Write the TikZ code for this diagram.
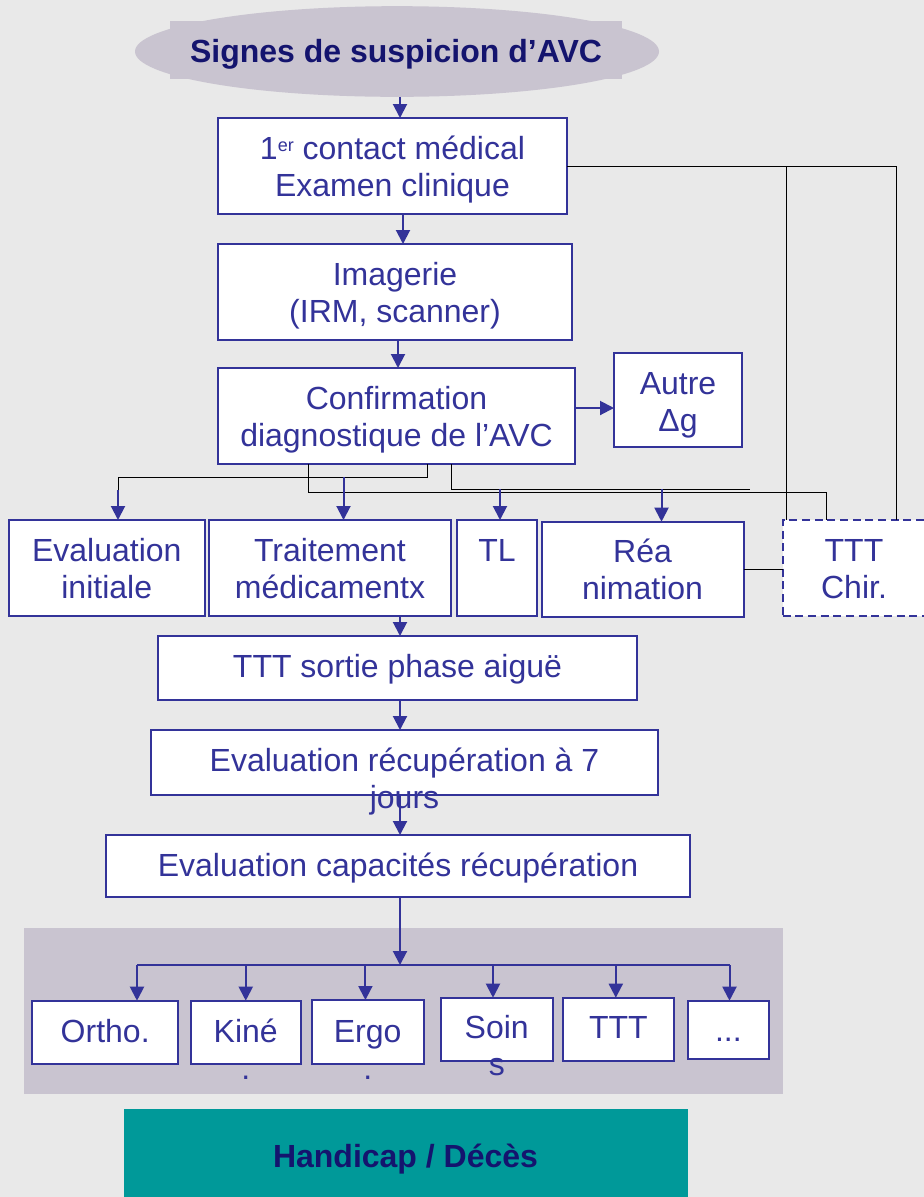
\documentclass[tikz,border=0pt]{standalone}
\usepackage{fontspec}
\setmainfont{Liberation Sans}
\usetikzlibrary{shapes.geometric,fit,arrows.meta}
\definecolor{pagebg}{RGB}{233,233,233}
\definecolor{ink}{RGB}{51,51,153}
\definecolor{navy}{RGB}{20,20,110}
\definecolor{mauve}{RGB}{201,196,208}
\definecolor{tealfill}{RGB}{0,153,153}
\newcommand{\ordsup}[1]{\raisebox{6pt}{\fontsize{13.5}{14}\selectfont #1}}
\begin{document}
\begin{tikzpicture}[x=0.75pt,y=-0.75pt,
  box/.style={draw=ink, line width=1.5pt, fill=white, inner sep=0pt, outer sep=0pt},
  dbox/.style={box, dash pattern=on 6pt off 3.5pt},
  plate/.style={fill=mauve, inner sep=0pt, outer sep=0pt},
  txt/.style={text=ink, font=\fontsize{24}{27.75}\selectfont, align=center, inner sep=0pt, anchor=base},
  head/.style={text=navy, font=\bfseries\fontsize{24}{27.75}\selectfont, inner sep=0pt, anchor=base},
  wire/.style={draw=black, line width=0.6pt},
  link/.style={draw=ink, line width=1.5pt},
  arr/.style={link, -{Triangle[length=10.5pt,width=10.5pt]}}]

% page
\fill[pagebg] (0,0) rectangle (924,1197);
\useasboundingbox (0,0) rectangle (924,1197);

% column and row helpers for the connectors
\coordinate (col) at (400,0);
\coordinate (colB) at (403,0);
\coordinate (colC) at (398,0);
\coordinate (v1) at (786,0);
\coordinate (v2) at (896,0);
\coordinate (r408) at (0,408);

% backgrounds
\node[plate, fit={(170,21) (622,79)}] (sigbox) {};
\node[plate, ellipse, minimum width=393pt, minimum height=68pt] (sig) at (397,51.5) {};
\node[head] (sig-t) at (396,62) {Signes de suspicion d’AVC};
\node[plate, fit={(23.6,927.7) (782.5,1094)}] (panel) {};
\node[fill=tealfill, inner sep=0pt, outer sep=0pt, fit={(123.7,1109) (687.7,1205)}] (fin) {};
\node[head] (fin-t) at (405.5,1167) {Handicap / Décès};

% boxes
\node[box, fit={(218,118) (567,214)}] (contact) {};
\node[box, fit={(218,244) (572,340)}] (imag) {};
\node[box, fit={(218,368) (575,464)}] (conf) {};
\node[box, fit={(614,353) (742,447)}] (autre) {};
\node[box, fit={(9,520) (204.5,615.5)}] (evalinit) {};
\node[box, fit={(209,520) (451,615.5)}] (trait) {};
\node[box, fit={(457,520) (537,615.5)}] (tl) {};
\node[box, fit={(541.5,521.7) (743.5,617)}] (rea) {};
\node[dbox, fit={(782.5,520) (925.5,616)}] (chir) {};
\node[box, fit={(158,636) (637,700)}] (sortie) {};
\node[box, fit={(151,730) (658,795)}] (eval7) {};
\node[box, fit={(106,835) (690,897)}] (capa) {};
\node[box, fit={(32.4,1000.7) (178,1064)}] (ortho) {};
\node[box, fit={(191,1000.7) (300.5,1064)}] (kine) {};
\node[box, fit={(311.7,1000) (423.7,1064)}] (ergo) {};
\node[box, fit={(440.8,997.7) (552.7,1061)}] (soins) {};
\node[box, fit={(562.8,997.7) (674,1061)}] (ttt) {};
\node[box, fit={(687.7,1000.7) (769,1058.7)}] (dots) {};

% box texts: first baseline 41px under the top edge
% (two-line texts sit on their last baseline, one line lower)
\node[txt] (contact-t) at ([yshift=-58.5pt]contact.north) {1\ordsup{er} contact médical\\Examen clinique};
\node[txt] (imag-t) at ([yshift=-58.5pt]imag.north) {Imagerie\\(IRM, scanner)};
\node[txt] (conf-t) at ([yshift=-58.5pt]conf.north) {Confirmation\\diagnostique de l’AVC};
\node[txt] (autre-t) at ([yshift=-58.5pt]autre.north) {Autre\\Δg};
\node[txt] (evalinit-t) at ([yshift=-58.5pt]evalinit.north) {Evaluation\\initiale};
\node[txt] (trait-t) at ([yshift=-58.5pt]trait.north) {Traitement\\médicamentx};
\node[txt] (tl-t) at ([yshift=-30.75pt]tl.north) {TL};
\node[txt] (rea-t) at ([yshift=-58.5pt]rea.north) {Réa\\nimation};
\node[txt] (chir-t) at ([yshift=-58.5pt]chir.north) {TTT\\Chir.};
\node[txt] (sortie-t) at ([yshift=-30.75pt]sortie.north) {TTT sortie phase aiguë};
\node[txt] (eval7-t) at ([yshift=-58.5pt]eval7.north) {Evaluation récupération à 7\\jours};
\node[txt] (capa-t) at ([yshift=-30.75pt]capa.north) {Evaluation capacités récupération};
\node[txt] (ortho-t) at ([yshift=-31.5pt]ortho.north) {Ortho.};
\node[txt] (kine-t) at ([yshift=-59.25pt]kine.north) {Kiné\\.};
\node[txt] (ergo-t) at ([yshift=-59.25pt]ergo.north) {Ergo\\.};
\node[txt] (soins-t) at ([yshift=-58.5pt]soins.north) {Soin\\s};
\node[txt] (ttt-t) at ([yshift=-30.75pt]ttt.north) {TTT};
\node[txt] (dots-t) at ([yshift=-30.75pt]dots.north) {...};

% thin black connectors
\draw[wire] (contact.east) -| (chir.north -| v2);
\draw[wire] (contact.east -| v1) -- (chir.north -| v1);
\coordinate (a1) at (427,477);
\coordinate (a2) at (118,477);
\coordinate (a3) at (118,490);
\coordinate (t1) at (343.5,477);
\coordinate (b1) at (308,492);
\coordinate (b2) at (826,492);
\coordinate (c1) at (451,489);
\coordinate (c2) at (750,489);
\draw[wire] (conf.south -| a1) -- (a1) -- (a2) -- (a3);
\draw[wire] (conf.south -| b1) -- (b1) -- (b2) -- (chir.north -| b2);
\draw[wire] (conf.south -| c1) -- (c1) -- (c2);
\draw[wire] (rea.east) -- (rea.east -| chir.west);

% blue arrows
\draw[arr] (sig.south -| col) -- (contact.north -| col);
\draw[arr] (contact.south -| colB) -- (imag.north -| colB);
\draw[arr] (imag.south -| colC) -- (conf.north -| colC);
\draw[arr] (conf.east |- r408) -- (autre.west |- r408);
\draw[arr] (a3) -- (evalinit.north -| a3);
\draw[arr] (t1) -- (trait.north -| t1);
\draw[arr] (c1 -| tl.north) ++(3,0) coordinate (tlx) -- (tl.north -| tlx);
\draw[arr] (c1 -| rea.north) ++(19,0) coordinate (reax) -- (rea.north -| reax);
\draw[arr] (trait.south -| col) -- (sortie.north -| col);
\draw[arr] (sortie.south -| col) -- (eval7.north -| col);
\draw[arr] (eval7.south -| col) -- (capa.north -| col);

% distribution bus towards the rehabilitation boxes
\coordinate (busl) at (137,965);
\coordinate (busr) at (729.5,965);
\draw[link] (busl) -- (busr);
\draw[arr] (capa.south -| col) -- (busl -| col);
\draw[arr] (busl) -- (ortho.north -| busl);
\draw[arr] (busl -| kine.north) -- (kine.north);
\draw[arr] (busl -| 365.4,0) -- (ergo.north -| 365.4,0);
\draw[arr] (busl -| 493,0) -- (soins.north -| 493,0);
\draw[arr] (busl -| 615.8,0) -- (ttt.north -| 615.8,0);
\draw[arr] (busr) -- (dots.north -| busr);
\end{tikzpicture}
\end{document}
